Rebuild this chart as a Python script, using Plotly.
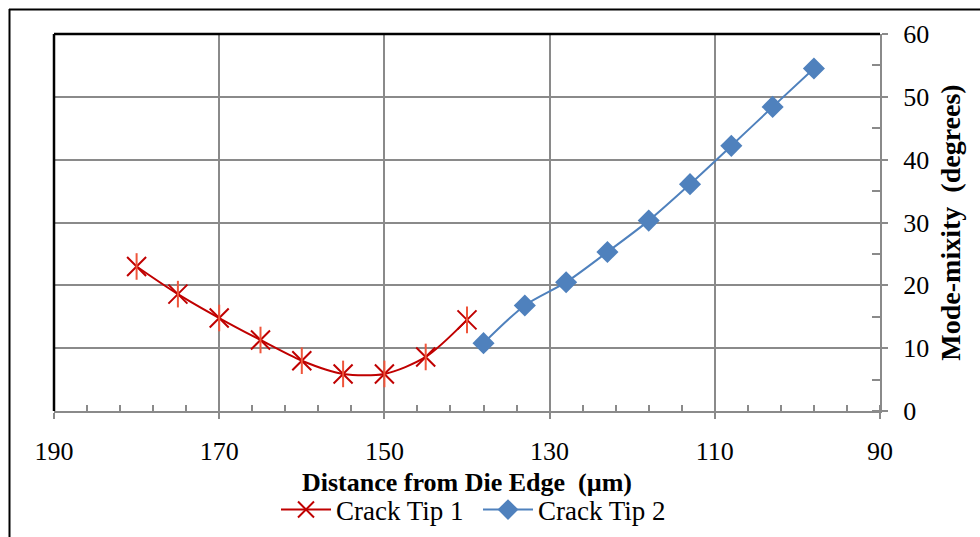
import plotly.graph_objects as go

# Data
tip1_x = [180, 175, 170, 165, 160, 155, 150, 145, 140]
tip1_y = [23.0, 18.6, 14.8, 11.3, 8.0, 5.9, 5.9, 8.6, 14.5]
tip2_x = [138, 133, 128, 123, 118, 113, 108, 103, 98]
tip2_y = [10.8, 16.8, 20.5, 25.3, 30.3, 36.1, 42.2, 48.4, 54.5]

x_ticks = [190, 170, 150, 130, 110, 90]
y_ticks = [0, 10, 20, 30, 40, 50, 60]

RED = "#C00000"
BLUE = "#4F81BD"
GRID = "#8A8A8A"
FONT = "Liberation Serif"

W, H = 980, 537
L, R, T, B = 54, 100, 34, 126
pw, ph = W - L - R, H - T - B

fig = go.Figure()
fig.add_trace(go.Scatter(
    x=tip1_x, y=tip1_y, name="Crack Tip 1", mode="lines+markers",
    line=dict(color=RED, width=2, shape="spline", smoothing=0.8),
    marker=dict(symbol="x-thin-open", size=19, line=dict(color=RED, width=2)),
    legendgroup="t1"))
fig.add_trace(go.Scatter(
    x=tip1_x, y=tip1_y, mode="markers", showlegend=False, legendgroup="t1",
    marker=dict(symbol="line-ns-open", size=19, line=dict(color=RED, width=2)),
    hoverinfo="skip"))
fig.add_trace(go.Scatter(
    x=tip2_x, y=tip2_y, name="Crack Tip 2", mode="lines+markers",
    line=dict(color=BLUE, width=2, shape="spline", smoothing=0.8),
    marker=dict(symbol="diamond", size=17, color=BLUE)))

fig.update_layout(
    width=W, height=H,
    margin=dict(l=L, r=R, t=T, b=B, autoexpand=False),
    paper_bgcolor="white", plot_bgcolor="white",
    font=dict(family=FONT, size=26, color="black"),
    showlegend=True,
    legend=dict(orientation="h", x=(276 - L) / pw, xanchor="left",
                y=(ph - (510 - T)) / ph, yanchor="middle",
                font=dict(size=27, family=FONT), itemwidth=50,
                entrywidth=137, tracegroupgap=0,
                bgcolor="rgba(0,0,0,0)"),
    xaxis=dict(
        range=[190, 90], tickvals=x_ticks, showgrid=True,
        gridcolor=GRID, gridwidth=2, zeroline=False,
        showline=True, linecolor=GRID, linewidth=2,
        ticks="outside", ticklen=6, tickwidth=2, tickcolor=GRID,
        ticklabelstandoff=10,
        minor=dict(dtick=4, tick0=90, ticks="inside", ticklen=6, tickwidth=1.5,
                   tickcolor=GRID, showgrid=False),
        tickfont=dict(size=26, family=FONT),
        title=dict(text="<b>Distance from Die Edge  (µm)</b>",
                   font=dict(size=26, family=FONT), standoff=8),
    ),
    yaxis=dict(
        side="right", range=[0, 60], tickvals=y_ticks, showgrid=True,
        gridcolor=GRID, gridwidth=2, zeroline=False,
        showline=True, linecolor=GRID, linewidth=2,
        ticks="outside", ticklen=6, tickwidth=2, tickcolor=GRID,
        ticklabelstandoff=10,
        minor=dict(dtick=5, ticks="inside", ticklen=8, tickwidth=1.5,
                   tickcolor=GRID, showgrid=False),
        tickfont=dict(size=26, family=FONT),
        title=dict(text="<b>Mode-mixity  (degrees)</b>",
                   font=dict(size=28, family=FONT), standoff=12),
    ),
    shapes=[
        dict(type="line", xref="x domain", yref="y domain", x0=0, x1=1, y0=1, y1=1,
             line=dict(color="black", width=2.5), layer="above"),
        dict(type="line", xref="x domain", yref="y domain", x0=0, x1=0, y0=0, y1=1,
             line=dict(color="black", width=2.5), layer="above"),
        dict(type="line", xref="paper", yref="paper",
             x0=(9 - L) / pw, x1=(W + 5 - L) / pw,
             y0=(ph - (9.5 - T)) / ph, y1=(ph - (9.5 - T)) / ph,
             line=dict(color="black", width=2)),
        dict(type="line", xref="paper", yref="paper",
             x0=(9.5 - L) / pw, x1=(9.5 - L) / pw,
             y0=(ph - (9 - T)) / ph, y1=(ph - (H + 5 - T)) / ph,
             line=dict(color="black", width=2)),
    ],
)

fig.write_html("out.html")
